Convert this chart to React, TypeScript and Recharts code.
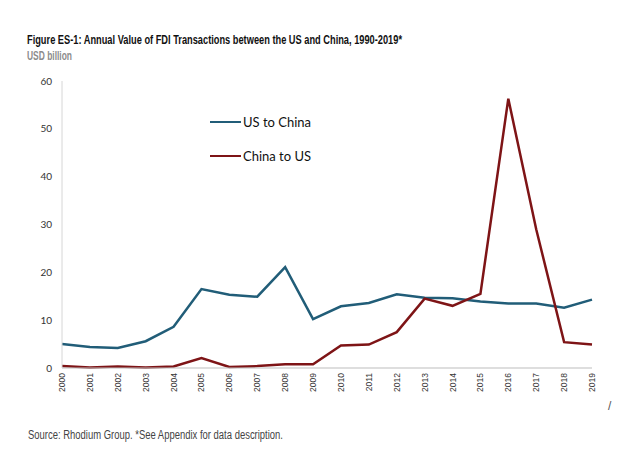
import { LineChart, Line, XAxis, YAxis } from 'recharts';

// (USD billion)
const years = [
  '2000', '2001', '2002', '2003', '2004', '2005', '2006', '2007', '2008', '2009',
  '2010', '2011', '2012', '2013', '2014', '2015', '2016', '2017', '2018', '2019',
];
const usToChina = [
  5.0, 4.4, 4.2, 5.6, 8.6, 16.5, 15.3, 14.9, 21.1, 10.2,
  12.9, 13.6, 15.4, 14.7, 14.6, 13.9, 13.5, 13.5, 12.6, 14.3,
];
const chinaToUs = [
  0.4, 0.1, 0.3, 0.1, 0.3, 2.1, 0.2, 0.4, 0.8, 0.8,
  4.7, 4.9, 7.5, 14.5, 13.0, 15.5, 56.3, 29.0, 5.4, 4.9,
];
const yTicks = [0, 10, 20, 30, 40, 50, 60];

const US_COLOR = '#215d78';
const CN_COLOR = '#7e1416';

const data = years.map((year, i) => ({
  year,
  us: usToChina[i],
  cn: chinaToUs[i],
}));

const narrow = '"Liberation Sans Narrow", "Liberation Sans", Arial, sans-serif';

function YearTick({ x, y, payload }: any) {
  return (
    <text
      x={x}
      y={y}
      transform={`rotate(-90 ${x} ${y})`}
      textAnchor="end"
      dominantBaseline="central"
      fontSize={8.5}
      fontFamily='"Liberation Sans", Arial, sans-serif'
      fill="#333"
    >
      {payload.value}
    </text>
  );
}

// legend sits inside the plot, drawn on top so it takes no space from the chart
function LegendBox() {
  const items = [
    { label: 'US to China', color: US_COLOR },
    { label: 'China to US', color: CN_COLOR },
  ];
  return (
    <div
      style={{
        position: 'absolute',
        left: 210,
        top: 112,
        fontFamily: 'Lato, sans-serif',
        fontSize: 13,
        color: '#111',
      }}
    >
      {items.map((it) => (
        <div key={it.label} style={{ display: 'flex', alignItems: 'center', height: 20, marginBottom: 14 }}>
          <span style={{ display: 'inline-block', width: 31, height: 2.5, background: it.color, marginRight: 2 }} />
          <span>{it.label}</span>
        </div>
      ))}
    </div>
  );
}

export default function App() {
  return (
    <div style={{ position: 'absolute', left: 0, top: 0, width: 640, height: 456, background: '#fff' }}>
      <LineChart
        width={640}
        height={456}
        data={data}
        margin={{ top: 81, right: 48, bottom: 48, left: 0 }}
      >
        <XAxis
          dataKey="year"
          height={40}
          interval={0}
          tickLine={false}
          tickSize={0}
          tickMargin={5}
          axisLine={{ stroke: '#bdbdbd', strokeWidth: 1.2 }}
          tick={<YearTick />}
        />
        <YAxis
          width={62}
          domain={[0, 60]}
          ticks={yTicks}
          tickLine={false}
          tickMargin={4}
          axisLine={{ stroke: '#d6d6d6' }}
          tick={{ fontSize: 10, fill: '#333', fontFamily: 'Lato, sans-serif' }}
        />
        <Line
          dataKey="us"
          name="US to China"
          stroke={US_COLOR}
          strokeWidth={2.5}
          dot={false}
          isAnimationActive={false}
        />
        <Line
          dataKey="cn"
          name="China to US"
          stroke={CN_COLOR}
          strokeWidth={2.5}
          dot={false}
          isAnimationActive={false}
        />
      </LineChart>
      <LegendBox />
      <svg
        width={640}
        height={456}
        style={{ position: 'absolute', left: 0, top: 0, pointerEvents: 'none' }}
      >
        <text x={27} y={44} fontFamily={narrow} fontWeight="bold" fontSize={12.5} fill="#111" textLength={375} lengthAdjust="spacingAndGlyphs">
          Figure ES-1: Annual Value of FDI Transactions between the US and China, 1990-2019*
        </text>
        <text x={27} y={60} fontFamily={narrow} fontWeight="bold" fontSize={12} fill="#8c8c8c" textLength={45} lengthAdjust="spacingAndGlyphs">
          USD billion
        </text>
        <text x={28} y={439} fontFamily={narrow} fontSize={12} fill="#444" textLength={255} lengthAdjust="spacingAndGlyphs">
          Source: Rhodium Group. *See Appendix for data description.
        </text>
        <text x={608} y={410} fontFamily={narrow} fontSize={12} fill="#555">
          /
        </text>
      </svg>
    </div>
  );
}
